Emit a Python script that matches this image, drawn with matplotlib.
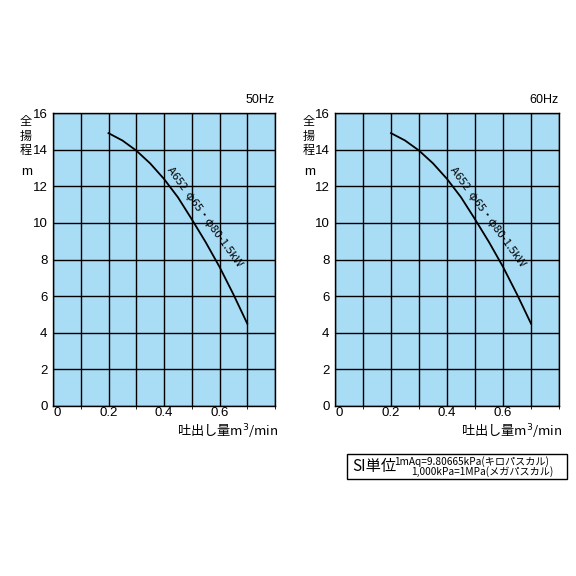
import numpy as np
import matplotlib.pyplot as plt
from matplotlib.patches import Rectangle

plt.rcParams['font.family'] = ['Liberation Sans', 'Noto Sans CJK JP', 'DejaVu Sans']
JP = ['Noto Sans CJK JP', 'DejaVu Sans']

# pump curve (same for both panels)
flow = [0.2, 0.25, 0.3, 0.35, 0.4, 0.45, 0.5, 0.55, 0.6, 0.65, 0.7]
head = [14.9, 14.5, 13.95, 13.25, 12.4, 11.4, 10.2, 8.95, 7.6, 6.1, 4.5]
panels = ["50Hz", "60Hz"]
curve_label = "A652  φ65・φ80-1.5kW"
x_ticks = [0, 0.2, 0.4, 0.6]
y_ticks = [0, 2, 4, 6, 8, 10, 12, 14, 16]
ylabel_chars = ["全", "揚", "程"]

fig = plt.figure(figsize=(5.76, 5.76), dpi=100)
fig.patch.set_facecolor("white")

lefts = [53 / 576, 335 / 576]
widths = [222 / 576, 224 / 576]
label_x = [26, 309]
bottom = 1 - 406 / 576
height = 293 / 576

for left, w, hz, lx in zip(lefts, widths, panels, label_x):
    ax = fig.add_axes([left, bottom, w, height])
    ax.set_facecolor("#a9dcf5")
    ax.set_xlim(0, 0.8)
    ax.set_ylim(0, 16)
    ax.set_xticks(np.arange(0, 0.81, 0.1), minor=True)
    ax.set_xticks(x_ticks)
    ax.set_xticklabels(["0", "0.2", "0.4", "0.6"])
    ax.set_yticks(y_ticks)
    ax.grid(True, which="both", color="black", lw=1.0)
    ax.tick_params(length=0, labelsize=9.5, pad=4)
    ax.tick_params(axis="x", pad=1)
    for lbl in ax.get_xticklabels():
        if lbl.get_text() == "0":
            lbl.set_ha("left")
    for s in ax.spines.values():
        s.set_linewidth(1.0)
    ax.set_axisbelow(True)

    ax.plot(flow, head, color="black", lw=1.3)
    ax.text(0.545, 10.35, curve_label, rotation=-54, fontsize=8.2, family=JP,
            ha="center", va="center", rotation_mode="anchor")

    ax.text(1.0, 1.025, hz, transform=ax.transAxes, ha="right", va="bottom", fontsize=9)
    for i, ch in enumerate(ylabel_chars):
        fig.text(lx / 576, 1 - (122 + 14 * i) / 576, ch, fontsize=8.7,
                 family=JP, ha="center", va="center")
    fig.text((lx + 1) / 576, 1 - 172 / 576, "m", fontsize=9.5, ha="center", va="center")
    ax.text(1.015, -0.05, "吐出し量m$^3$/min", transform=ax.transAxes, family=JP,
            ha="right", va="top", fontsize=9.5)

# SI unit box
fig.patches.append(Rectangle((347 / 576, 1 - 479 / 576), 220 / 576, 25 / 576,
                             transform=fig.transFigure, fill=False,
                             edgecolor="black", lw=1.0))
fig.text(352 / 576, 1 - 467 / 576, "SI単位", fontsize=11, family=JP,
         va="center", ha="left")
fig.text(394 / 576, 1 - 462 / 576, "1mAq=9.80665kPa(キロパスカル)", fontsize=7.3,
         family=JP, va="center", ha="left")
fig.text(553 / 576, 1 - 472 / 576, "1,000kPa=1MPa(メガパスカル)", fontsize=7.3,
         family=JP, va="center", ha="right")

fig.savefig("out.png", dpi=100)
